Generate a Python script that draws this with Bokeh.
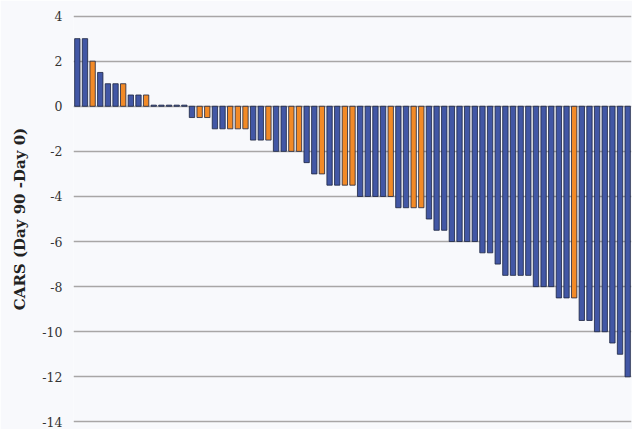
from bokeh.plotting import figure
from bokeh.models import ColumnDataSource, Range1d, FixedTicker, CustomJSTickFormatter
from bokeh.embed import file_html
from bokeh.resources import INLINE

# CARS change per patient (Day 90 - Day 0), sorted, with group
cars_change = [
    3, 3, 2, 1.5, 1, 1, 1, 0.5, 0.5, 0.5,
    0.05, 0.05, 0.05, 0.05, 0.05,
    -0.5, -0.5, -0.5, -1, -1, -1, -1, -1,
    -1.5, -1.5, -1.5, -2, -2, -2, -2, -2.5, -3, -3,
    -3.5, -3.5, -3.5, -3.5, -4, -4, -4, -4, -4,
    -4.5, -4.5, -4.5, -4.5, -5, -5.5, -5.5,
    -6, -6, -6, -6, -6.5, -6.5, -7,
    -7.5, -7.5, -7.5, -7.5, -8, -8, -8,
    -8.5, -8.5, -8.5, -9.5, -9.5, -10, -10, -10.5, -11, -12,
]
group = [
    "B", "B", "O", "B", "B", "B", "O", "B", "B", "O",
    "B", "B", "B", "B", "B",
    "B", "O", "O", "B", "B", "O", "O", "O",
    "B", "B", "O", "B", "B", "O", "O", "B", "B", "O",
    "B", "B", "O", "O", "B", "B", "B", "B", "O",
    "B", "B", "O", "O", "B", "B", "B",
    "B", "B", "B", "B", "B", "B", "B",
    "B", "B", "B", "B", "B", "B", "B",
    "B", "B", "O", "B", "B", "B", "B", "B", "B", "B",
]
y_ticks = [-14, -12, -10, -8, -6, -4, -2, 0, 2, 4]

color_map = {"B": "#4257a5", "O": "#f28a27"}
x = list(range(len(cars_change)))
colors = [color_map[g] for g in group]
src = ColumnDataSource(dict(x=x, top=cars_change, color=colors))

bg = "#f8f9fc"
p = figure(width=632, height=429, output_backend="svg", toolbar_location=None,
           x_range=Range1d(-0.5, len(cars_change) - 0.5), y_range=Range1d(-14.07, 4.07),
           x_axis_location=None,
           min_border_left=73, min_border_right=1, min_border_top=14, min_border_bottom=6,
           background_fill_color=bg, border_fill_color=bg)
p.outline_line_color = None

p.vbar(x="x", top="top", bottom=0, width=0.7, fill_color="color",
       line_color="#1c2540", line_width=0.8, source=src)

p.xgrid.visible = False
p.ygrid.grid_line_color = "#a8a6a6"
p.ygrid.grid_line_width = 1.3

ax = p.yaxis[0]
ax.ticker = FixedTicker(ticks=y_ticks)
ax.formatter = CustomJSTickFormatter(code="return tick.toString();")
ax.axis_line_color = None
ax.major_tick_line_color = None
ax.minor_tick_line_color = None
ax.major_tick_out = 0
ax.major_tick_in = 0
ax.major_label_standoff = 11
ax.major_label_text_font = "DejaVu Serif"
ax.major_label_text_font_size = "12.5px"
ax.major_label_text_color = "#333333"
ax.axis_label = "CARS (Day 90 -Day 0)"
ax.axis_label_text_font = "DejaVu Serif"
ax.axis_label_text_font_style = "bold"
ax.axis_label_text_font_size = "15px"
ax.axis_label_text_color = "#222222"
ax.axis_label_standoff = 10

open("out.html", "w").write(file_html(p, INLINE))
